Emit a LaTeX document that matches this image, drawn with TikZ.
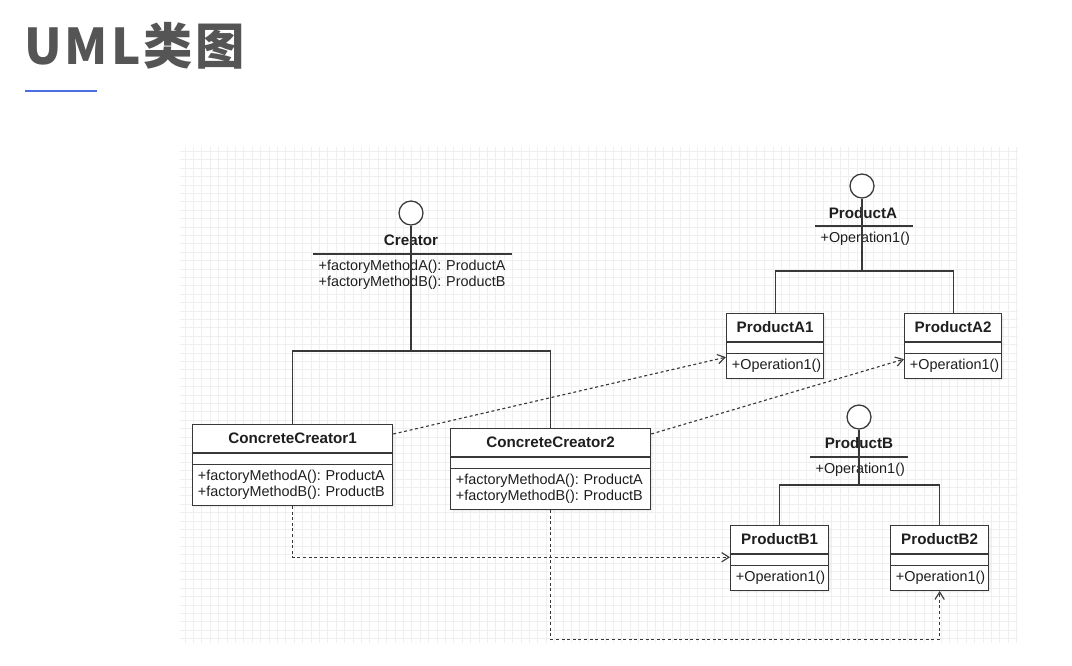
\documentclass[tikz,border=0pt]{standalone}
\usepackage{fontspec}
\setmainfont{Liberation Sans}
\newfontfamily\cjk[LetterSpace=6]{Noto Sans CJK SC}
\usetikzlibrary{shapes.multipart,arrows.meta,shadows,positioning}

\definecolor{umlline}{HTML}{383838}
\definecolor{umltext}{HTML}{1E1E1E}
\definecolor{gridgray}{HTML}{EFEFEF}
\definecolor{titlegray}{HTML}{555555}
\definecolor{accent}{HTML}{4A6FE3}

\newcommand\umlfont{\fontsize{10.8}{12}\selectfont\frenchspacing}
\newcommand\namefont{\fontsize{11.4}{12}\selectfont\bfseries}
\newcommand\titlestrut{\rule[-3.75pt]{0pt}{14.25pt}}
\newcommand\emptystrut{\rule{0pt}{1.5pt}}

\tikzstyle{umlclass} = [rectangle split, rectangle split parts=3, draw=umlline,
    fill=white, line width=0.95pt, inner xsep=4pt, inner ysep=3pt,
    align=left, font=\umlfont,
    text=umltext, drop shadow={shadow xshift=1.5pt, shadow yshift=-1.5pt, opacity=0.12}]
\tikzstyle{lollipop} = [circle, draw=umlline, fill=white, line width=0.95pt,
    minimum size=18pt, inner sep=0pt]
\tikzstyle{ifname} = [font=\namefont, text=umltext, inner sep=0pt]
\tikzstyle{ifops} = [font=\umlfont, text=umltext, align=left, inner xsep=4pt, inner ysep=3.6pt]
\tikzstyle{link} = [draw=umlline, line width=0.95pt]
\tikzstyle{dep} = [draw=umlline, line width=0.85pt, dash pattern=on 2.2pt off 2pt,
    -{Straight Barb[length=5.5pt,width=7pt]}]
\tikzstyle{gridline} = [draw=gridgray, line width=0.4pt, step=6.3pt]

\begin{document}
\begin{tikzpicture}[x=0.75pt, y=-0.75pt]
    \useasboundingbox (0,0) rectangle (1072,665);

    % Title
    \node [anchor=west, inner sep=0pt, text=titlegray, font=\cjk\bfseries\fontsize{37}{40}\selectfont] (title) at (24,46) {UML类图};
    \draw [accent, line width=1.5pt] (25,91) -- (97,91);

    % Grid background
    \draw [gridline] (180,147) grid (1018,643);

    % Place nodes
    \node [lollipop] (creatorI) at (411,213) {};
    \node [ifname] (creator) at (411,240) {Creator};
    \node [ifops, text width=140.5pt, anchor=north west] (creatorops) at (313,254)
        {\strut+factoryMethodA(): ProductA\\\strut+factoryMethodB(): ProductB};

    \node [umlclass, text width=142pt, anchor=north west] (cc1) at (192,424)
        {\centering\namefont\titlestrut ConcreteCreator1\par
         \nodepart{two}\emptystrut
         \nodepart{three}\strut+factoryMethodA(): ProductA\\\strut+factoryMethodB(): ProductB};
    \node [umlclass, text width=142pt, anchor=north west] (cc2) at (450,428)
        {\centering\namefont\titlestrut ConcreteCreator2\par
         \nodepart{two}\emptystrut
         \nodepart{three}\strut+factoryMethodA(): ProductA\\\strut+factoryMethodB(): ProductB};

    \node [lollipop] (productAI) at (862,186) {};
    \node [ifname] (productA) at (863,213) {ProductA};
    \node [ifops, text width=64.75pt, anchor=north west] (productAops) at (815,226)
        {\strut+Operation1()};
    \node [umlclass, text width=64.75pt, anchor=north west] (pa1) at (726,313)
        {\centering\namefont\titlestrut ProductA1\par
         \nodepart{two}\emptystrut
         \nodepart{three}\strut+Operation1()};
    \node [umlclass, text width=64.75pt, anchor=north west] (pa2) at (904,313)
        {\centering\namefont\titlestrut ProductA2\par
         \nodepart{two}\emptystrut
         \nodepart{three}\strut+Operation1()};

    \node [lollipop] (productBI) at (859,417) {};
    \node [ifname] (productB) at (859,443) {ProductB};
    \node [ifops, text width=64.75pt, anchor=north west] (productBops) at (810,457)
        {\strut+Operation1()};
    \node [umlclass, text width=65.5pt, anchor=north west] (pb1) at (730,525)
        {\centering\namefont\titlestrut ProductB1\par
         \nodepart{two}\emptystrut
         \nodepart{three}\strut+Operation1()};
    \node [umlclass, text width=65.5pt, anchor=north west] (pb2) at (890,525)
        {\centering\namefont\titlestrut ProductB2\par
         \nodepart{two}\emptystrut
         \nodepart{three}\strut+Operation1()};

    % Interface separators
    \draw [link] (creatorops.north west) -- (creatorops.north east);
    \draw [link] (productAops.north west) -- (productAops.north east);
    \draw [link] (productBops.north west) -- (productBops.north east);

    % Realization lines
    \coordinate (creatorJ) at (411,351);
    \coordinate (productAJ) at (862,271);
    \coordinate (productBJ) at (859,485);
    \draw [link] (creatorI) -- (creatorJ);
    \draw [link] (cc1.north) |- (creatorJ) -| (cc2.north);
    \draw [link] (productAI) -- (productAJ);
    \draw [link] (pa1.north) |- (productAJ) -| (pa2.north);
    \draw [link] (productBI) -- (productBJ);
    \draw [link] (pb1.north) |- (productBJ) -| (pb2.north);

    % Dependencies
    \draw [dep] ([yshift=-7.5pt]cc1.north east) -- ([yshift=-3pt]pa1.two split west);
    \draw [dep] ([yshift=-4.5pt]cc2.north east) -- ([yshift=-4.5pt]pa2.two split west);
    \draw [dep] (cc1.south) |- ([yshift=-2.5pt]pb1.text split west);
    \draw [dep] (cc2.south) -- ++(0,129) -| (pb2.south);

\end{tikzpicture}
\end{document}
